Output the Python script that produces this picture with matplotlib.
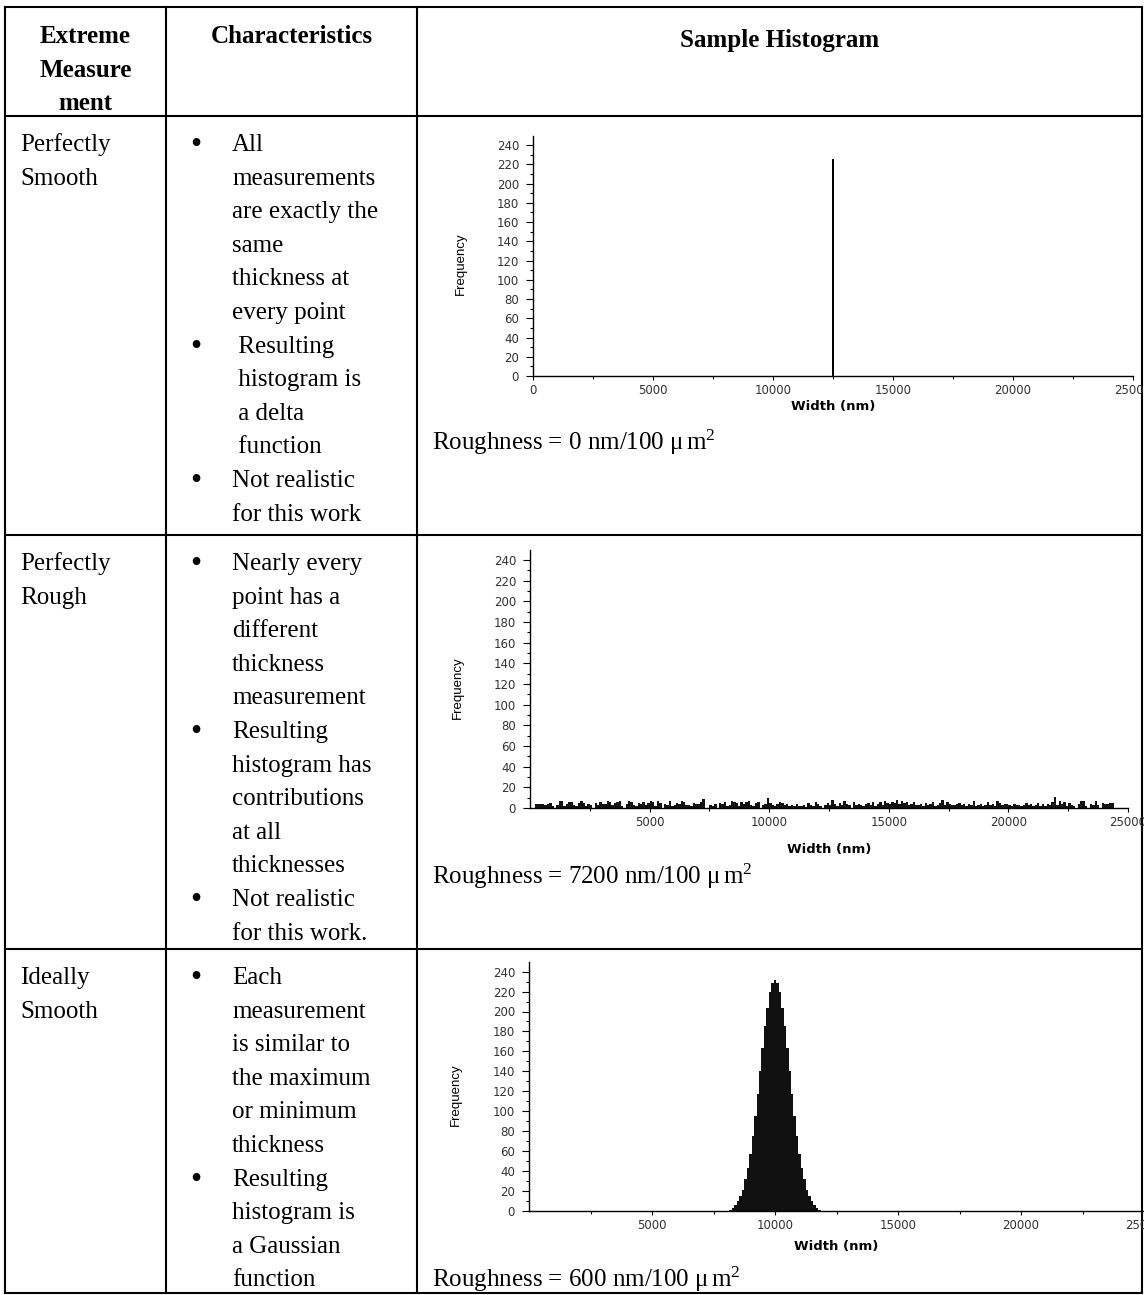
import numpy as np
import matplotlib.pyplot as plt
from matplotlib.ticker import FixedLocator

W, H = 1144, 1295

plt.rcParams['font.family'] = ['Liberation Serif', 'DejaVu Serif']
plt.rcParams['mathtext.fontset'] = 'custom'
plt.rcParams['mathtext.rm'] = 'Liberation Serif'
plt.rcParams['mathtext.it'] = 'Liberation Serif:italic'
plt.rcParams['mathtext.bf'] = 'Liberation Serif:bold'

# table text
headers = [["Extreme", "Measure", "ment"], ["Characteristics"], ["Sample Histogram"]]
row_names = [["Perfectly", "Smooth"], ["Perfectly", "Rough"], ["Ideally", "Smooth"]]
bullets = [
    [["All", "measurements", "are exactly the", "same", "thickness at", "every point"],
     [" Resulting", " histogram is", " a delta", " function"],
     ["Not realistic", "for this work"]],
    [["Nearly every", "point has a", "different", "thickness", "measurement"],
     ["Resulting", "histogram has", "contributions", "at all", "thicknesses"],
     ["Not realistic", "for this work."]],
    [["Each", "measurement", "is similar to", "the maximum", "or minimum", "thickness"],
     ["Resulting", "histogram is", "a Gaussian", "function"]],
]
roughness = [0, 7200, 600]

# histogram data (width in nm, counts)
spike_width = [12500]
spike_count = [226]

rough_counts = [
    0, 4, 4, 4, 4, 3, 4, 5, 2, 0,
    3, 7, 7, 2, 4, 6, 6, 3, 2, 5,
    7, 5, 2, 4, 3, 0, 5, 3, 6, 4,
    4, 7, 6, 3, 5, 6, 7, 2, 0, 4,
    7, 6, 3, 2, 5, 4, 6, 3, 5, 7,
    6, 2, 7, 5, 0, 4, 3, 7, 2, 3,
    5, 4, 7, 6, 3, 3, 2, 5, 4, 4,
    6, 9, 0, 0, 3, 2, 4, 0, 5, 4,
    6, 2, 3, 7, 6, 5, 2, 6, 4, 6,
    7, 3, 2, 5, 6, 0, 3, 4, 10, 5,
    3, 2, 4, 6, 5, 3, 4, 2, 3, 2,
    4, 2, 2, 3, 1, 5, 3, 2, 6, 4,
    2, 0, 3, 5, 3, 8, 4, 2, 5, 3,
    7, 4, 3, 0, 6, 3, 4, 3, 2, 4,
    5, 3, 6, 2, 4, 6, 3, 7, 5, 4,
    6, 5, 8, 4, 7, 5, 6, 3, 4, 6,
    3, 3, 4, 2, 5, 3, 4, 6, 2, 3,
    5, 8, 3, 6, 4, 3, 3, 4, 5, 3,
    4, 2, 4, 3, 7, 2, 3, 4, 2, 3,
    6, 3, 4, 2, 7, 5, 3, 4, 4, 3,
    2, 4, 3, 3, 2, 3, 5, 3, 4, 2,
    3, 5, 2, 4, 2, 4, 3, 6, 11, 3,
    7, 4, 6, 2, 5, 3, 2, 0, 4, 7,
    7, 2, 0, 4, 3, 7, 3, 0, 5, 4,
    4, 5, 5, 0,
]
rough_left = 100 + 100 * np.arange(len(rough_counts))

gauss_counts = [1, 3, 6, 10, 15, 21, 32, 43, 57, 75, 95, 117, 140, 163, 185, 204, 220, 229,
                232,
                229, 220, 204, 185, 163, 140, 117, 95, 75, 57, 43, 32, 21, 15, 10, 6, 3, 1]
gauss_center = 8200 + 100 * np.arange(len(gauss_counts))

fig = plt.figure(figsize=(W / 100, H / 100), dpi=100)
tab = fig.add_axes([0, 0, 1, 1])
tab.set_xlim(0, W)
tab.set_ylim(H, 0)
tab.axis('off')

# grid lines of the table
col_x = [5, 166, 417, 1142]
row_y = [7, 116, 535, 949, 1293]
for x in col_x:
    tab.plot([x, x], [row_y[0], row_y[-1]], color='black', lw=1.5, solid_capstyle='projecting')
for y in row_y:
    tab.plot([col_x[0], col_x[-1]], [y, y], color='black', lw=1.5, solid_capstyle='projecting')

fs = 18
step = 33.6
for i, line in enumerate(headers[0]):
    tab.text(85.5, 43 + i * step, line, fontsize=fs, fontweight='bold', ha='center', va='baseline')
tab.text(292, 43, headers[1][0], fontsize=fs, fontweight='bold', ha='center', va='baseline')
tab.text(780, 47, headers[2][0], fontsize=fs, fontweight='bold', ha='center', va='baseline')

for r in range(3):
    y = row_y[r + 1] + 35
    for j, line in enumerate(row_names[r]):
        tab.text(20, y + j * step, line, fontsize=fs, ha='left', va='baseline')
    k = 0
    for item in bullets[r]:
        tab.text(196, y + k * step + 2, "\u2022", fontsize=23, ha='center', va='baseline')
        for line in item:
            tab.text(232, y + k * step, line, fontsize=fs, ha='left', va='baseline')
            k += 1

rough_base = [450, 884, 1287]
for r in range(3):
    tab.text(432, rough_base[r], "Roughness = %d nm/100 \u03bc$\\,\\mathrm{m}^{2}$" % roughness[r],
             fontsize=fs, ha='left', va='baseline')


def add_hist(left, right, y0, ytop, xticks, label_x, xlabel_gap):
    ax = fig.add_axes([left / W, 1 - y0 / H, (right - left) / W, (y0 - ytop) / H])
    ax.set_facecolor('none')
    ax.set_xlim(0, 25000)
    ax.set_ylim(0, 250)
    ax.spines['top'].set_visible(False)
    ax.spines['right'].set_visible(False)
    for s in ('left', 'bottom'):
        ax.spines[s].set_linewidth(1.0)
    ax.set_yticks(range(0, 241, 20))
    ax.yaxis.set_minor_locator(FixedLocator(range(10, 250, 20)))
    ax.set_xticks(xticks)
    ax.xaxis.set_minor_locator(FixedLocator(range(2500, 25000, 5000)))
    ax.tick_params(axis='y', which='major', direction='out', length=5, width=0.8, pad=5)
    ax.tick_params(axis='y', which='minor', direction='out', length=2.5, width=0.8)
    ax.tick_params(axis='x', which='major', direction='out', length=3, width=0.8, pad=3)
    ax.tick_params(axis='x', which='minor', direction='out', length=2.5, width=0.8)
    for t in ax.get_xticklabels() + ax.get_yticklabels():
        t.set_fontfamily('DejaVu Sans')
        t.set_fontsize(8.5)
        t.set_color('#333333')
    ax.set_xlabel('Width (nm)', family='DejaVu Sans', fontweight='bold', fontsize=9.5, va='center')
    ax.xaxis.set_label_coords(0.5, -xlabel_gap / (y0 - ytop))
    ax.set_ylabel('Frequency', family=['Liberation Sans Narrow', 'Liberation Sans'], fontsize=9.5,
                  va='center')
    ax.yaxis.set_label_coords((label_x - left) / (right - left), 0.465)
    return ax


ax1 = add_hist(533, 1133, 376, 135.5, range(0, 25001, 5000), 461, 31)
ax1.bar(spike_width, spike_count, width=50, color='black', linewidth=0)

ax2 = add_hist(530, 1128, 808, 549.7, range(5000, 25001, 5000), 458, 42)
ax2.bar(rough_left, rough_counts, width=100, align='edge', color='#111111', linewidth=0)

ax3 = add_hist(529, 1144, 1210.7, 961.7, range(5000, 25001, 5000), 456, 36)
ax3.bar(gauss_center, gauss_counts, width=100, color='#111111', linewidth=0)

fig.savefig('out.png', dpi=100)
